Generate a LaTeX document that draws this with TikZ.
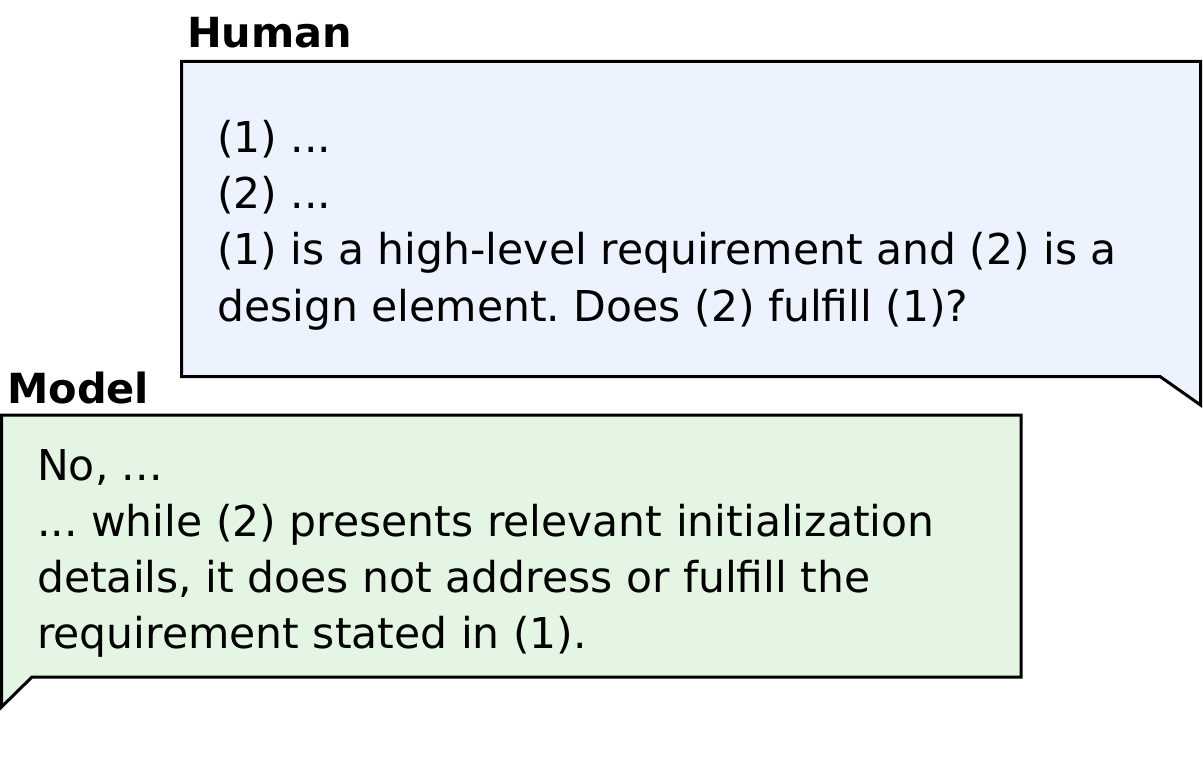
\documentclass[tikz,border=0pt]{standalone}
\usepackage{fontspec}
\setmainfont{DejaVu Sans}
\frenchspacing
\definecolor{humanfill}{HTML}{EDF3FE}
\definecolor{modelfill}{HTML}{E4F6E3}
\begin{document}
\begin{tikzpicture}[x=1pt,y=-1pt,
  bubble/.style={draw=black,line width=3pt,line join=miter},
  txt/.style={anchor=base west,inner sep=0pt,font=\fontsize{42.5}{50}\selectfont},
  who/.style={anchor=base west,inner sep=0pt,font=\fontsize{41.5}{50}\selectfont\bfseries}]
\useasboundingbox (0,0) rectangle (1203,762);
% Human bubble
\draw[bubble,fill=humanfill] (181.5,61.5) -- (1200.5,61.5) -- (1200.5,405) -- (1160,376.5) -- (181.5,376.5) -- cycle;
\node[who] (hlabel) at (187,48) {Human};
\node[txt] (h1) at (217,153) {(1) ...};
\node[txt] (h2) at (217,209) {(2) ...};
\node[txt] (h3) at (217,265) {(1) is a high-level requirement and (2) is a};
\node[txt] (h4) at (217,321) {design element. Does (2) fulfill (1)?};
% Model bubble
\draw[bubble,fill=modelfill] (1.5,415) -- (1021,415) -- (1021,677) -- (32,677) -- (1.5,707) -- cycle;
\node[who] (mlabel) at (7,403) {Model};
\node[txt] (m1) at (37,480) {No, ...};
\node[txt] (m2) at (37,536) {... while (2) presents relevant initialization};
\node[txt] (m3) at (37,592) {details, it does not address or fulfill the};
\node[txt] (m4) at (37,648) {requirement stated in (1).};
\end{tikzpicture}
\end{document}
